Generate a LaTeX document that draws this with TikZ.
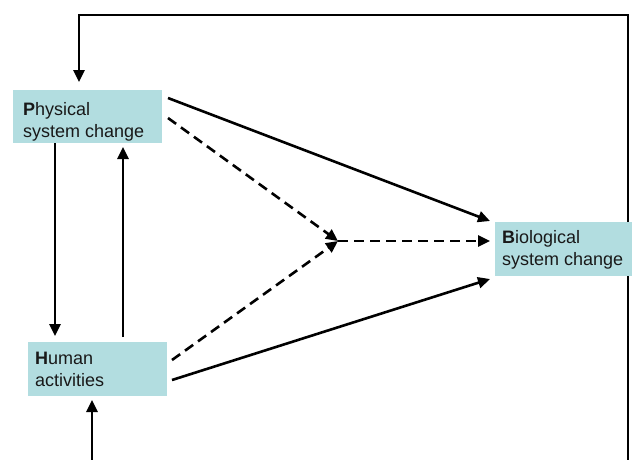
\documentclass[tikz,border=0pt]{standalone}
\usepackage{fontspec}
\setmainfont{Liberation Sans}
\usetikzlibrary{arrows.meta}
\definecolor{boxfill}{HTML}{B2DDE0}
\tikzset{
  sysbox/.style={fill=boxfill, draw=none, anchor=north west, inner sep=0pt},
  boxtext/.style={anchor=west, inner sep=0pt, align=left, text=black!90, font=\fontsize{18}{22}\selectfont},
  arr/.style={line width=2.6pt, -{Triangle[length=12pt,width=11pt]}},
  plain/.style={line width=2.6pt},
  dsh/.style={arr, dash pattern=on 10pt off 6pt}
}
\begin{document}
\begin{tikzpicture}[x=1pt,y=-1pt]
\useasboundingbox (0,0) rectangle (644,459);
\node[sysbox, minimum width=149pt, minimum height=53pt] (phys) at (13,90) {};
\node[boxtext] (physt) at (23,122) {\textbf{P}hysical\\system change};
\node[sysbox, minimum width=139pt, minimum height=54pt] (hum) at (28,342) {};
\node[boxtext] (humt) at (35,369) {\textbf{H}uman\\activities};
\node[sysbox, minimum width=137pt, minimum height=54pt] (bio) at (495,222) {};
\node[boxtext] (biot) at (502,250) {\textbf{B}iological\\system change};
\coordinate (j) at (338,241);
\coordinate (bl) at (92,460);
\coordinate (br) at (628,460);
\coordinate (tr) at (628,15);
\coordinate (tl) at (79,15);
% feedback loop
\draw[plain] (br) -- (bio.south -| br);
\draw[plain] (bio.north -| tr) -- (tr) -- (tl) -- (79,60);
\draw[arr] (79,58) -- (79,82);
\draw[arr] (bl) -- (92,400);
% vertical arrows
\draw[arr] (55,143) -- (55,336);
\draw[arr] (123,337) -- (123,147);
% solid arrows
\draw[arr] (168,98) -- (490,221);
\draw[arr] (172,380) -- (490,279);
% dashed
\draw[dsh] (168,118) -- (j);
\draw[dsh] (172,360) -- (j);
\draw[dsh] (j) -- (490,241);
\end{tikzpicture}
\end{document}
